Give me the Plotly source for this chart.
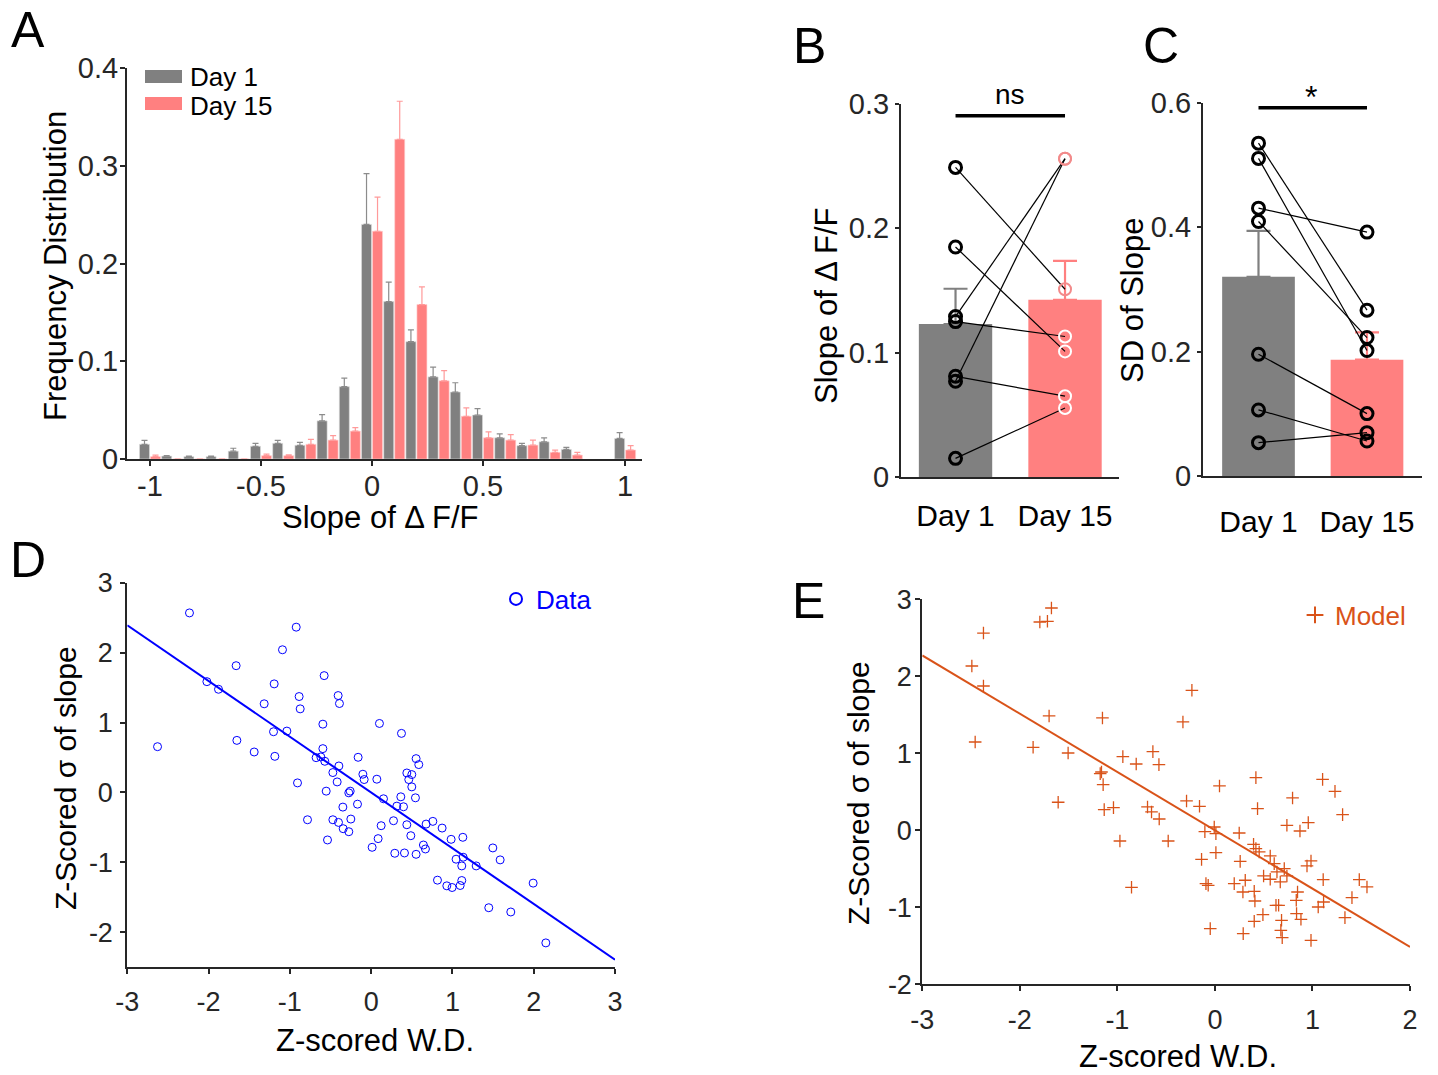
import numpy as np
import plotly.graph_objects as go

W, H = 1438, 1075
FONT = "Liberation Sans, Arial, Helvetica, sans-serif"
AX = "#262626"

# ---------------- Panel A data ----------------
bin_centers = [-1.0, -0.9, -0.8, -0.7, -0.6, -0.5, -0.4, -0.3, -0.2, -0.1, 0.0,
               0.1, 0.2, 0.3, 0.4, 0.5, 0.6, 0.7, 0.8, 0.9, 1.14]
hist_tickvals = [-1, -0.5, 0, 0.5, 1.14]
hist_ticktext = ["-1", "-0.5", "0", "0.5", "1"]
day1_freq = [0.015, 0.003, 0.0024, 0.0024, 0.008, 0.013, 0.016, 0.014, 0.039, 0.074, 0.240,
             0.161, 0.120, 0.084, 0.0685, 0.045, 0.0217, 0.0136, 0.0176, 0.0098, 0.021]
day1_sem = [0.004, 0.0005, 0.0006, 0.0006, 0.003, 0.003, 0.003, 0.003, 0.0064, 0.0087, 0.052,
            0.020, 0.012, 0.010, 0.0095, 0.0065, 0.0041, 0.0024, 0.0041, 0.0021, 0.006]
day15_freq = [0.0024, 0, 0, 0, 0, 0.0034, 0.0034, 0.015, 0.0193, 0.0285, 0.233,
              0.327, 0.158, 0.080, 0.0437, 0.0217, 0.0193, 0.0142, 0.0068, 0.004, 0.0092]
day15_sem = [0.0016, 0, 0, 0, 0, 0.0016, 0.0008, 0.005, 0.0047, 0.0035, 0.035,
             0.039, 0.018, 0.0105, 0.0085, 0.0061, 0.0057, 0.0051, 0.0022, 0.0028, 0.0044]

# ---------------- Panel B data ----------------
days = ["Day 1", "Day 15"]
b_day1 = [0.249, 0.185, 0.129, 0.125, 0.081, 0.077, 0.015]
b_day15 = [0.151, 0.101, 0.256, 0.113, 0.065, 0.256, 0.0555]
b_sem = [0.0284, 0.0314]

# ---------------- Panel C data ----------------
c_day1 = [0.535, 0.5105, 0.4305, 0.409, 0.1957, 0.1062, 0.0536]
c_day15 = [0.2665, 0.2016, 0.392, 0.2225, 0.1003, 0.0563, 0.0697]
c_sem = [0.074, 0.044]

# ---------------- Panel D data ----------------
d_x = [-2.235, -0.922, -1.091, -1.661, -2.021, -1.878, -1.193, -0.578, -1.316, -0.886,
       -0.873, -0.406, -0.39, -2.628, -1.652, -1.439, -1.201, -1.037, -1.185, -0.594,
       -0.594, -0.677, -0.619, -0.57, -0.397, -0.471, -0.418, -0.906, -0.553, -0.16,
       -0.102, -0.086, 0.07, -0.258, -0.275, -0.348, -0.168, -0.783, -0.471, -0.402,
       -0.25, -0.344, -0.275, -0.537, 0.102, 0.373, 0.553, 0.586, 0.439, 0.5,
       0.463, 0.5, 0.365, 0.545, 0.152, 0.316, 0.398, 0.275, 0.439, 0.123,
       0.488, 0.086, 0.012, 0.291, 0.41, 0.553, 0.643, 0.668, 0.676, 0.759,
       0.873, 0.984, 1.128, 1.045, 1.132, 1.115, 1.292, 1.497, 1.587, 0.816,
       0.931, 0.996, 1.095, 1.115, 1.447, 1.718, 1.993, 2.149]
d_y = [2.568, 2.364, 2.041, 1.813, 1.585, 1.476, 1.553, 1.671, 1.268, 1.372,
       1.196, 1.386, 1.272, 0.655, 0.745, 0.579, 0.869, 0.878, 0.517, 0.977,
       0.627, 0.498, 0.508, 0.446, 0.379, 0.285, 0.151, 0.137, 0.019, 0.503,
       0.261, 0.185, 0.19, 0.019, -0.005, -0.209, -0.167, -0.39, -0.39, -0.428,
       -0.38, -0.518, -0.561, -0.679, 0.987, 0.845, 0.484, 0.399, 0.279, 0.256,
       0.185, 0.08, -0.062, -0.076, -0.09, -0.195, -0.204, -0.404, -0.461, -0.475,
       -0.618, -0.66, -0.784, -0.869, -0.865, -0.884, -0.751, -0.808, -0.452, -0.413,
       -0.509, -0.67, -0.641, -0.954, -0.926, -1.05, -1.05, -0.793, -0.964, -1.254,
       -1.335, -1.359, -1.33, -1.259, -1.648, -1.709, -1.296, -2.151]
d_fit = (-0.797, 0.0)   # slope, intercept
d_xticks = [-3, -2, -1, 0, 1, 2, 3]
d_yticks = [-2, -1, 0, 1, 2, 3]

# ---------------- Panel E data ----------------
e_x = [-1.676, -1.795, -1.717, -2.373, -2.492, -2.373, -2.458, -1.7, -1.864, -1.505,
       -1.607, -1.153, -1.176, -1.163, -1.146, -1.135, -1.04, -0.974, -0.855, -0.944,
       -0.807, -0.636, -0.574, -0.691, -0.65, -0.571, -0.479, -0.328, -0.236, -0.291,
       -0.158, 0.047, -0.103, -0.007, 0.01, -0.137, 0.01, -0.092, -0.069, -0.048,
       0.249, 0.259, 0.42, 0.437, 0.396, 0.42, 0.454, 0.198, 0.311, 0.287,
       0.403, 0.41, 0.492, 0.403, 0.29, 0.567, 0.608, 0.636, 0.499, 0.567,
       0.67, 0.711, 0.738, 0.626, 0.653, 0.683, 0.676, 0.69, 0.738, 0.796,
       0.872, 0.957, 0.944, 0.985, 0.847, 0.834, 0.837, 0.882, 0.985, 1.059,
       1.114, 1.11, 1.104, 1.231, 1.309, 1.333, 1.405, 1.48, 1.559]
e_y = [2.887, 2.705, 2.714, 2.562, 2.134, 1.874, 1.147, 1.485, 1.078, 1.004,
       0.364, 1.459, 0.736, 0.757, 0.593, 0.269, 0.295, -0.139, -0.74, 0.957,
       0.861, 1.022, 0.853, 0.303, 0.238, 0.147, -0.139, 1.407, 1.818, 0.381,
       0.312, 0.576, -0.017, 0.043, -0.043, -0.377, -0.29, -0.693, -0.714, -1.277,
       -0.035, -0.403, 0.684, 0.281, -0.182, -0.238, -0.281, -0.693, -0.649, -0.801,
       -0.792, -0.918, -1.095, -1.182, -1.342, -0.333, -0.433, -0.541, -0.593, -0.636,
       -0.671, -0.498, -0.593, -0.974, -0.974, -1.169, -1.299, -1.394, 0.065, 0.42,
       -0.009, 0.1, -0.463, -0.398, -0.801, -0.909, -1.082, -1.156, -1.429, -0.996,
       -0.931, -0.64, 0.662, 0.506, 0.203, -1.134, -0.874, -0.64, -0.736]
e_fit = (-0.757, 0.0)
e_xticks = [-3, -2, -1, 0, 1, 2]
e_yticks = [-2, -1, 0, 1, 2, 3]

GRAY = "#808080"
PINK = "#FF8080"
BLUE = "#0000FF"
ORANGE = "#D95319"


def px(x):
    return x / W


def py(y):
    return 1 - y / H


def labels(vals):
    return [str(v) for v in vals]


fig = go.Figure()

# ---- A: histogram bars ----
bw = 0.045
fig.add_trace(go.Bar(x=bin_centers, y=day1_freq, width=bw, offset=-0.0473,
                     marker=dict(color=GRAY, line=dict(color="#dddddd", width=0.6)),
                     error_y=dict(type="data", symmetric=False, array=day1_sem,
                                  arrayminus=[0] * len(day1_sem), color="#8c8c8c",
                                  thickness=1.2, width=3),
                     xaxis="x", yaxis="y", showlegend=False))
fig.add_trace(go.Bar(x=bin_centers, y=day15_freq, width=bw, offset=0.0023,
                     marker=dict(color=PINK, line=dict(color="#ffd0d0", width=0.6)),
                     error_y=dict(type="data", symmetric=False, array=day15_sem,
                                  arrayminus=[0] * len(day15_sem), color="#ff9a9a",
                                  thickness=1.2, width=3),
                     xaxis="x", yaxis="y", showlegend=False))


# ---- B & C: bars with paired points ----
def paired_panel(xa, ya, v1, v15, sem, d15_colors):
    means = [float(np.mean(v1)), float(np.mean(v15))]
    for i, col in enumerate([GRAY, PINK]):
        fig.add_trace(go.Bar(x=[i], y=[means[i]], width=0.67,
                             marker=dict(color=col, line=dict(width=0)),
                             error_y=dict(type="data", symmetric=False, array=[sem[i]],
                                          arrayminus=[0], color=col, thickness=2.2, width=12),
                             xaxis=xa, yaxis=ya, showlegend=False))
    lx, ly = [], []
    for a, b in zip(v1, v15):
        lx += [0, 1, None]
        ly += [a, b, None]
    fig.add_trace(go.Scatter(x=lx, y=ly, mode="lines", line=dict(color="black", width=1.2),
                             xaxis=xa, yaxis=ya, showlegend=False, hoverinfo="skip"))
    fig.add_trace(go.Scatter(x=[0] * len(v1), y=v1, mode="markers",
                             marker=dict(symbol="circle-open", size=12, color="black",
                                         line=dict(width=3)),
                             xaxis=xa, yaxis=ya, showlegend=False))
    fig.add_trace(go.Scatter(x=[1] * len(v15), y=v15, mode="markers",
                             marker=dict(symbol="circle-open", size=12, color=d15_colors,
                                         line=dict(width=3 if d15_colors == "black" else 2)),
                             xaxis=xa, yaxis=ya, showlegend=False))
    return means


b_mean15 = float(np.mean(b_day15))
b_colors = ["#f28a8a" if v > b_mean15 else "white" for v in b_day15]
paired_panel("x2", "y2", b_day1, b_day15, b_sem, b_colors)
paired_panel("x3", "y3", c_day1, c_day15, c_sem, "black")

# ---- D scatter ----
fig.add_trace(go.Scatter(x=d_x, y=d_y, mode="markers", name="Data",
                         marker=dict(symbol="circle-open", size=8, color=BLUE, line=dict(width=1)),
                         xaxis="x4", yaxis="y4", legend="legend2"))
dxl = np.array([-3, 3])
fig.add_trace(go.Scatter(x=dxl, y=d_fit[0] * dxl + d_fit[1], mode="lines",
                         line=dict(color=BLUE, width=2), xaxis="x4", yaxis="y4",
                         showlegend=False))

# ---- E scatter ----
fig.add_trace(go.Scatter(x=e_x, y=e_y, mode="markers", name="Model",
                         marker=dict(symbol="cross-thin-open", size=9, color=ORANGE,
                                     line=dict(width=1.3, color=ORANGE)),
                         xaxis="x5", yaxis="y5", legend="legend3"))
exl = np.array([-3, 2])
fig.add_trace(go.Scatter(x=exl, y=e_fit[0] * exl + e_fit[1], mode="lines",
                         line=dict(color=ORANGE, width=2), xaxis="x5", yaxis="y5",
                         showlegend=False))


def axis_common(**kw):
    d = dict(showline=True, linecolor=AX, linewidth=2, showgrid=False, zeroline=False,
             ticks="outside", ticklen=5, tickwidth=2, tickcolor=AX, automargin=False,
             tickfont=dict(family=FONT, size=29, color=AX), mirror=False, fixedrange=True)
    d.update(kw)
    return d


SMALL = dict(family=FONT, size=27, color=AX)

layout = dict(
    width=W, height=H, margin=dict(l=0, r=0, t=0, b=0, pad=0, autoexpand=False),
    paper_bgcolor="white", plot_bgcolor="white", showlegend=True,
    font=dict(family=FONT, color="black"),
    xaxis=axis_common(domain=[px(127), px(642)], range=[-1.1036, 1.216], anchor="y",
                      tickvals=hist_tickvals, ticktext=hist_ticktext, ticklabelstandoff=-5),
    yaxis=axis_common(domain=[py(459), py(68)], range=[0, 0.4], anchor="x",
                      tickvals=[0, 0.1, 0.2, 0.3, 0.4], ticktext=["0", "0.1", "0.2", "0.3", "0.4"],
                      ticklabelstandoff=-4),
    xaxis2=axis_common(domain=[px(901), px(1119)], range=[-0.498, 1.493], anchor="y2",
                       tickvals=[0, 1], ticktext=days, ticks="",
                       tickfont=dict(family=FONT, size=30, color="black"), ticklabelstandoff=11),
    yaxis2=axis_common(domain=[py(477), py(104)], range=[0, 0.3], anchor="x2",
                       tickvals=[0, 0.1, 0.2, 0.3], ticktext=["0", "0.1", "0.2", "0.3"],
                       ticklen=4, ticklabelstandoff=0),
    xaxis3=axis_common(domain=[px(1203), px(1422)], range=[-0.5115, 1.507], anchor="y3",
                       tickvals=[0, 1], ticktext=days, ticks="",
                       tickfont=dict(family=FONT, size=30, color="black"), ticklabelstandoff=18),
    yaxis3=axis_common(domain=[py(476), py(102.7)], range=[0, 0.6], anchor="x3",
                       tickvals=[0, 0.2, 0.4, 0.6], ticktext=["0", "0.2", "0.4", "0.6"],
                       ticklen=4, ticklabelstandoff=0),
    xaxis4=axis_common(domain=[px(127.3), px(615)], range=[-3, 3], anchor="y4",
                       tickvals=d_xticks, ticktext=labels(d_xticks), tickfont=SMALL,
                       ticklabelstandoff=4),
    yaxis4=axis_common(domain=[py(967.3), py(582.7)], range=[-2.5, 3], anchor="x4",
                       tickvals=d_yticks, ticktext=labels(d_yticks), tickfont=SMALL,
                       ticklabelstandoff=2),
    xaxis5=axis_common(domain=[px(922.3), px(1410)], range=[-3, 2], anchor="y5",
                       tickvals=e_xticks, ticktext=labels(e_xticks), tickfont=SMALL,
                       ticklabelstandoff=5),
    yaxis5=axis_common(domain=[py(984.3), py(599.3)], range=[-2, 3], anchor="x5",
                       tickvals=e_yticks, ticktext=labels(e_yticks), tickfont=SMALL,
                       ticklabelstandoff=-2),
    legend=dict(visible=False),
    legend2=dict(x=px(496), y=py(599), xanchor="left", yanchor="middle",
                 bgcolor="rgba(0,0,0,0)", font=dict(family=FONT, size=26, color=BLUE),
                 itemsizing="constant"),
    legend3=dict(x=px(1295), y=py(615), xanchor="left", yanchor="middle",
                 bgcolor="rgba(0,0,0,0)", font=dict(family=FONT, size=26, color=ORANGE),
                 itemsizing="constant"),
)
fig.update_layout(**layout)

ann = []


def text(x, y, s, size, angle=0, color="black", xanchor="center"):
    ann.append(dict(x=px(x), y=py(y), xref="paper", yref="paper", text=s, showarrow=False,
                    font=dict(family=FONT, size=size, color=color), textangle=angle,
                    xanchor=xanchor, yanchor="middle"))


# panel letters
text(28, 30, "A", 50)
text(809, 46, "B", 50)
text(1161, 46, "C", 50)
text(28, 560, "D", 50)
text(808, 601, "E", 50)
# axis labels
text(55, 266, "Frequency Distribution", 31, -90)
text(380, 517, "Slope of Δ F/F", 31)
text(826, 306, "Slope of Δ F/F", 31, -90)
text(1132, 301, "SD of Slope", 31, -90)
text(65, 778, "Z-Scored σ of slope", 30, -90)
text(375, 1040, "Z-scored W.D.", 31)
text(858, 793, "Z-Scored σ of slope", 30, -90)
text(1178, 1056, "Z-scored W.D.", 31)
# legend A
text(188, 77, "Day 1", 26, xanchor="left")
text(188, 106, "Day 15", 26, xanchor="left")
# significance
text(1010, 95, "ns", 28)
text(1311, 97, "*", 32)
fig.update_layout(annotations=ann)

shapes = [
    dict(type="rect", xref="paper", yref="paper", x0=px(145), x1=px(182), y0=py(83), y1=py(70),
         fillcolor=GRAY, line=dict(width=0)),
    dict(type="rect", xref="paper", yref="paper", x0=px(145), x1=px(182), y0=py(110), y1=py(97),
         fillcolor=PINK, line=dict(width=0)),
    dict(type="line", xref="x2", yref="y2", x0=0, x1=1, y0=0.2905, y1=0.2905,
         line=dict(color="black", width=3.5)),
    dict(type="line", xref="x3", yref="y3", x0=0, x1=1, y0=0.592, y1=0.592,
         line=dict(color="black", width=3.5)),
]
fig.update_layout(shapes=shapes)

fig.write_html("out.html", config={"displayModeBar": False},
               post_script="document.body.style.margin='0';document.body.style.padding='0';"
                           "document.documentElement.style.overflow='hidden';")
